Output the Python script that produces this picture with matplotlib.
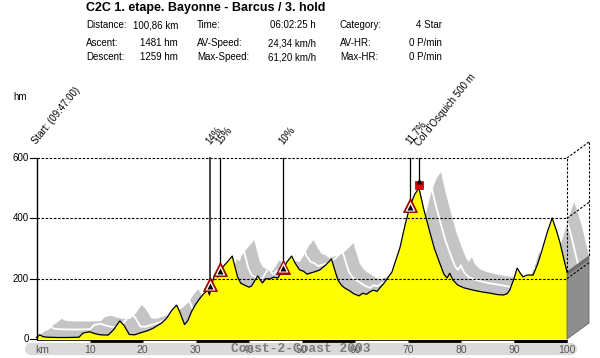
import numpy as np
import matplotlib
matplotlib.use("Agg")
import matplotlib.pyplot as plt
from matplotlib.patches import Polygon
from matplotlib import font_manager

# ---------------- data ----------------
title = "C2C 1. etape. Bayonne - Barcus / 3. hold"
stat_labels = [["Distance:", "Ascent:", "Descent:"],
               ["Time:", "AV-Speed:", "Max-Speed:"],
               ["Category:", "AV-HR:", "Max-HR:"]]
stat_values = [["100,86 km", "1481 hm", "1259 hm"],
               ["06:02:25 h", "24,34 km/h", "61,20 km/h"],
               ["4 Star", "0 P/min", "0 P/min"]]

dist_km = [0, 0.6, 1.2, 2, 4, 6, 8, 8.8, 10, 11, 12, 13.5, 14.5, 15.7, 16.5, 17.5,
           18.5, 19.5, 21, 22, 23.5, 24.5, 25.5, 26.4, 27, 27.9, 28.5, 29.2, 30,
           30.8, 31.5, 32.3, 32.6, 33, 33.6, 34.2, 34.5, 35.2, 35.8, 36.3, 36.9,
           37.4, 37.9, 38.5, 39.2, 40, 40.5, 41.2, 41.7, 42.2, 42.6, 43.2, 44,
           44.7, 45.5, 46.4, 47.2, 48.1, 48.8, 49.6, 50.3, 51, 51.5, 52.3, 53.4,
           54.5, 55.6, 56.2, 56.8, 57.5, 58.1, 59, 59.8, 60.8, 61.5, 62.2, 62.8,
           63.5, 64.2, 64.7, 65.5, 66.3, 67, 67.8, 68.5, 69.5, 70.4, 71.3, 72.1,
           73, 74.2, 75, 76, 76.8, 77.4, 77.9, 78.5, 79.4, 80.5, 82.3, 84, 85.5,
           87, 88, 88.7, 89.2, 90, 90.6, 91.2, 91.7, 92.5, 93.6, 94.5, 95.3,
           96.3, 97.2, 98, 98.7, 99.4, 100]
elev_m = [5, 14, 8, 6, 5, 5, 6, 20, 24, 18, 14, 13, 30, 60, 45, 15,
          14, 20, 28, 36, 52, 68, 95, 112, 90, 48, 60, 90, 115,
          135, 150, 162, 146, 180, 212, 205, 222, 240, 252, 262, 275,
          240, 206, 185, 179, 172, 175, 195, 209, 195, 186, 200, 199,
          205, 202, 229, 255, 275, 250, 229, 225, 215, 218, 222, 229,
          245, 265, 230, 196, 178, 169, 160, 150, 143, 152, 148, 156,
          162, 158, 169, 185, 205, 222, 265, 302, 380, 440, 480, 500,
          430, 351, 300, 252, 215, 202, 218, 195, 179, 170, 162, 156, 152,
          147, 146, 150, 162, 200, 235, 218, 206, 212, 212, 250, 295,
          355, 401, 360, 318, 265, 222]

climb_km = [32.7, 34.5, 46.4, 70.4]
climb_m = [182, 232, 240, 444]
climb_labels = ["14%", "15%", "10%", "11.7%"]
summit_km = [72.1]
summit_m = [510]
summit_labels = ["Col d'Osquich 500 m"]
start_label = "Start: (09:47:00)"
y_ticks = [0, 200, 400, 600]
x_ticks = [10, 20, 30, 40, 50, 60, 70, 80, 90, 100]
watermark = "Coast-2-Coast 2003"

# ---------------- layout ----------------
W, H = 600, 358
X0, SX = 36.5, 5.305      # px of 0 km, px per km
Y0, SY = 339.0, 0.3017    # row of 0 m, px per m
DX, DY = 22 / SX, 16 / SY  # 3D depth in data units

narrow = ["Liberation Sans Narrow", "Liberation Sans", "DejaVu Sans"]

fig = plt.figure(figsize=(W / 100, H / 100), dpi=100)
ax = fig.add_axes([0, 0, 1, 1])
ax.set_xlim(-X0 / SX, (W - X0) / SX)
ax.set_ylim((Y0 - H) / SY, Y0 / SY)
ax.axis("off")

x = np.array(dist_km, float)
y = np.array(elev_m, float)
xmax = x[-1]

# 3D extrusion (back volume)
vol = [(x[0], 0), (x[0], y[0])] + list(zip(x + DX, y + DY)) + [(xmax + DX, DY), (xmax, 0)]
ax.add_patch(Polygon(vol, closed=True, fc="#c4c4c4", ec="none", zorder=1))
ax.plot(x + DX * 0.5, y + DY * 0.5, color="white", lw=1.3, zorder=2)

# front profile
ax.fill_between(x, 0, y, color="#ffff00", lw=0, zorder=3)
ax.plot(x, y, color="black", lw=0.9, zorder=4)

# right face
face = [(xmax, 0), (xmax, y[-1]), (xmax + DX, y[-1] + DY), (xmax + DX, DY)]
ax.add_patch(Polygon(face, closed=True, fc="#8e8e8e", ec="#666666", lw=0.6, zorder=3))
strip = [(xmax, y[-1]), (xmax + DX, y[-1] + DY), (xmax + DX, y[-1] + DY - 12), (xmax, y[-1] - 12)]
ax.add_patch(Polygon(strip, closed=True, fc="#6e6e6e", ec="none", zorder=3))

# grid lines (dashed) with 3D continuation
dash = dict(color="black", lw=0.8, dashes=(2.2, 1.5), zorder=6)
for v in y_ticks[1:]:
    ax.plot([0, xmax], [v, v], **dash)
    ax.plot([xmax, xmax + DX], [v, v + DY], **dash)
ax.plot([xmax + DX, xmax + DX], [y_ticks[-1] + DY, y[-1] + DY], **dash)
ax.plot([xmax, xmax], [y[-1], y_ticks[-1]], color="black", lw=0.8, dashes=(2.2, 1.5), zorder=6)

# left axis + ticks
ax.plot([0, 0], [0, y_ticks[-1]], color="black", lw=1.0, zorder=7)
for v in y_ticks:
    ax.plot([-1.2, 0], [v, v], color="black", lw=0.8, zorder=7)
    ax.text(-1.5, v, str(v), ha="right", va="center", fontsize=7, family=narrow, zorder=7)
ax.text(-4.3, (Y0 - 97) / SY, "hm", ha="left", va="center", fontsize=7, family=narrow)

# bottom band
ax.plot([(31 - X0) / SX, (571 - X0) / SX], [(Y0 - 349) / SY] * 2, color="#dadada",
        lw=8.8, solid_capstyle="round", zorder=1)
for k in range(0, len(x_ticks), 2):
    a = x_ticks[k]
    b = x_ticks[k + 1] if k + 1 < len(x_ticks) else a + 10
    ax.plot([a, b], [(Y0 - 341) / SY] * 2, color="black", lw=2.0, solid_capstyle="butt", zorder=5)
ax.plot([90, 100], [(Y0 - 341) / SY] * 2, color="black", lw=2.0, solid_capstyle="butt", zorder=5)
ax.plot([0, xmax], [(Y0 - 339.8) / SY] * 2, color="black", lw=0.6, zorder=5)
ty = (Y0 - 350) / SY
ax.text(1.0, ty, "km", ha="center", va="center", fontsize=7.5, color="#555555", family=narrow, zorder=6)
for t in x_ticks:
    ax.text(t, ty, str(t), ha="center", va="center", fontsize=7.5, color="#555555", family=narrow, zorder=6)
ax.text((301 - X0) / SX, (Y0 - 349) / SY, watermark, ha="center", va="center", fontsize=9.3,
        family=["Liberation Mono", "DejaVu Sans Mono"], fontweight="bold", color="#7c7c7c", zorder=7)

# annotation lines, markers and rotated labels
top = y_ticks[-1]
lab_y = (Y0 - 146) / SY
ax.text(0.3, lab_y, start_label, rotation=51, rotation_mode="anchor", ha="left", va="bottom",
        fontsize=7, family=narrow, zorder=8)
for i, (ck, cm, cl) in enumerate(zip(climb_km, climb_m, climb_labels)):
    lw, col = (1.4, "#444444") if i == 0 else (0.9, "black")
    ax.plot([ck, ck], [cm + 10, top], color=col, lw=lw, zorder=7)
    ax.plot(ck, cm, marker="^", ms=10, mfc="#b00000", mec="#8a0000", mew=0.6, ls="none", zorder=8)
    ax.plot(ck, cm - 3, marker="^", ms=6.5, mfc="white", mec="none", ls="none", zorder=9)
    ax.plot(ck, cm - 5, marker="^", ms=4.5, mfc="black", mec="none", ls="none", zorder=10)
    ax.text(ck + 0.35, lab_y, cl, rotation=51, rotation_mode="anchor", ha="left", va="bottom",
            fontsize=7, family=narrow, zorder=8)
for sk, sm, sl in zip(summit_km, summit_m, summit_labels):
    ax.plot([sk, sk], [sm + 10, top], color="black", lw=0.9, zorder=7)
    ax.plot(sk, sm, marker="s", ms=6, mfc="#e00000", mec="#990000", mew=0.5, ls="none", zorder=8)
    ax.plot(sk, sm + 14, marker="^", ms=4.5, mfc="black", mec="none", ls="none", zorder=8)
    ax.text(sk + 0.3, lab_y - 8, sl, rotation=51, rotation_mode="anchor", ha="left", va="bottom",
            fontsize=7, family=narrow, zorder=8)

# header
fig.text(86 / W, 1 - 8 / H, title, ha="left", va="center", fontsize=9, fontweight="bold", family=narrow)
col_lab = [86, 197, 340]
col_val = [178, 316, 442]
rows = [25.5, 43, 57]
for c in range(3):
    for r in range(3):
        fig.text(col_lab[c] / W, 1 - rows[r] / H, stat_labels[c][r], ha="left", va="center",
                 fontsize=7, family=narrow)
        fig.text(col_val[c] / W, 1 - rows[r] / H, stat_values[c][r], ha="right", va="center",
                 fontsize=7, family=narrow)

fig.savefig("out.png", dpi=100, facecolor="white")
